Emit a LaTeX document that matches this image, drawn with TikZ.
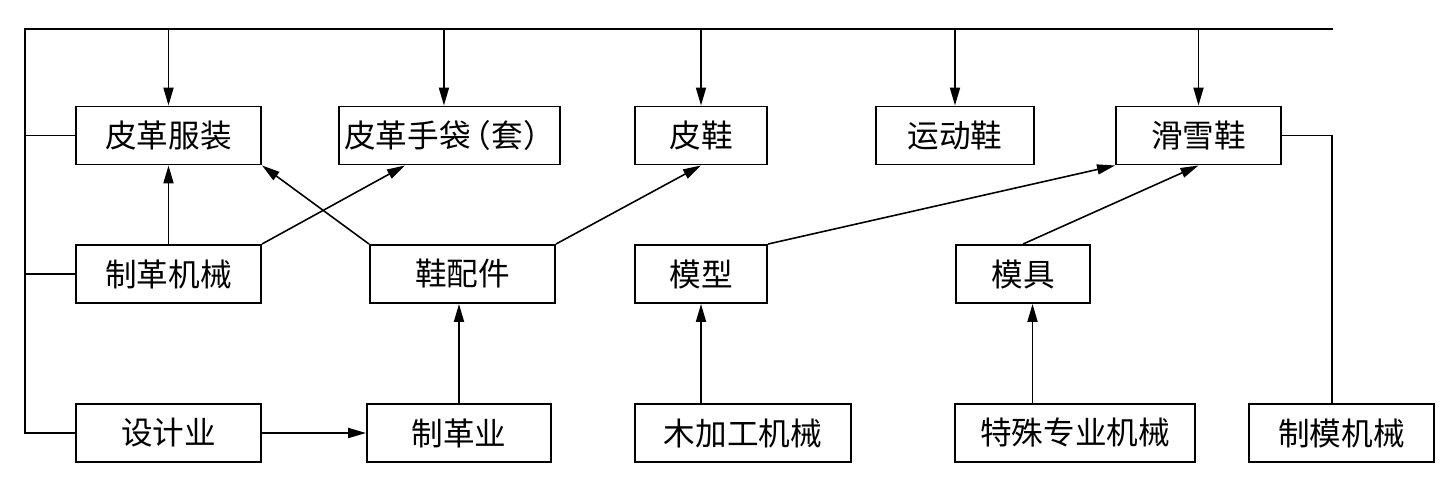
\documentclass[tikz,border=0pt]{standalone}
\usepackage{fontspec}
\newfontfamily\cjkfont{Noto Sans CJK SC}
\usetikzlibrary{arrows.meta,calc}

\begin{document}
\begin{tikzpicture}[
            x=0.02cm, y=-0.02cm,
            >={Triangle[length=3.6mm,width=2mm]},
            line width=1.1pt,
            box/.style={rectangle, draw=black, minimum height=1.16cm, inner sep=0pt, font=\cjkfont\fontsize{18}{20}\selectfont},
            link/.style={->, line width=0.9pt}
        ]
        \useasboundingbox (0,0) rectangle (1454,490);

        % ==========================================
        % TOP ROW: PRODUCTS
        % ==========================================
        \node[box, minimum width=3.70cm] (fz) at (168.5,135.5) {皮革服装};
        \node[box, minimum width=4.42cm] (st) at (449.5,135.5) {皮革手袋\hspace{-0.35em}（套）\hspace{-0.35em}};
        \node[box, minimum width=2.64cm] (px) at (701,135.5) {皮鞋};
        \node[box, minimum width=3.16cm] (yd) at (955,135.5) {运动鞋};
        \node[box, minimum width=3.30cm] (hx) at (1198.5,135.5) {滑雪鞋};

        % ==========================================
        % MIDDLE ROW
        % ==========================================
        \node[box, minimum width=3.70cm] (zgjx) at (168.5,274) {制革机械};
        \node[box, minimum width=3.70cm] (xpj) at (462.5,274) {鞋配件};
        \node[box, minimum width=2.64cm] (mx) at (701,274) {模型};
        \node[box, minimum width=2.68cm] (mj) at (1023,274) {模具};

        % ==========================================
        % BOTTOM ROW
        % ==========================================
        \node[box, minimum width=3.70cm] (sj) at (168.5,433) {设计业};
        \node[box, minimum width=3.68cm] (zgy) at (459,433) {制革业};
        \node[box, minimum width=4.32cm] (mjg) at (743,433) {木加工机械};
        \node[box, minimum width=4.80cm] (tz) at (1075,433) {特殊专业机械};
        \node[box, minimum width=3.70cm] (zmjx) at (1341.5,433) {制模机械};

        % ==========================================
        % FRAME LINES (left bus and top bus)
        % ==========================================
        \coordinate (topL) at (25,29);
        \coordinate (topR) at (1333,29);
        \coordinate (rgt) at (1332,135.5);
        \draw (topR) -- (topL) |- (sj.west);
        \draw (topL |- fz.west) -- (fz.west);
        \draw (topL |- zgjx.west) -- (zgjx.west);

        % Drops from the top bus
        \coordinate (stin) at ($(st.north west)!0.475!(st.north east)$);
        \draw[->] (topL -| fz.north) -- (fz.north);
        \draw[->] (topL -| stin) -- (stin);
        \draw[->] (topL -| px.north) -- (px.north);
        \draw[->] (topL -| yd.north) -- (yd.north);
        \draw[->] (topL -| hx.north) -- (hx.north);

        % Right side: ski boots to mould machinery
        \draw (hx.east) -- (rgt) -- (rgt |- zmjx.north);

        % ==========================================
        % CONNECTIONS
        % ==========================================
        \draw[->] (zgjx.north) -- (zgjx.north |- fz.south);
        \draw[link] (zgjx.north east) -- ($(st.south west)!0.3!(st.south east)$);
        \draw[link] (xpj.north west) -- (fz.south east);
        \draw[link] (xpj.north east) -- (px.south);
        \draw[link] (mx.north east) -- (hx.south west);
        \draw[link] (mj.north) -- (hx.south);

        \coordinate (mjin) at ($(mj.south west)!0.57!(mj.south east)$);
        \draw[->] (zgy.north) -- (zgy.north |- xpj.south);
        \draw[->] (mx.south |- mjg.north) -- (mx.south);
        \draw[->] (mjin |- tz.north) -- (mjin);
        \draw[->] (sj.east) -- (zgy.west);

        \end{tikzpicture}
\end{document}
